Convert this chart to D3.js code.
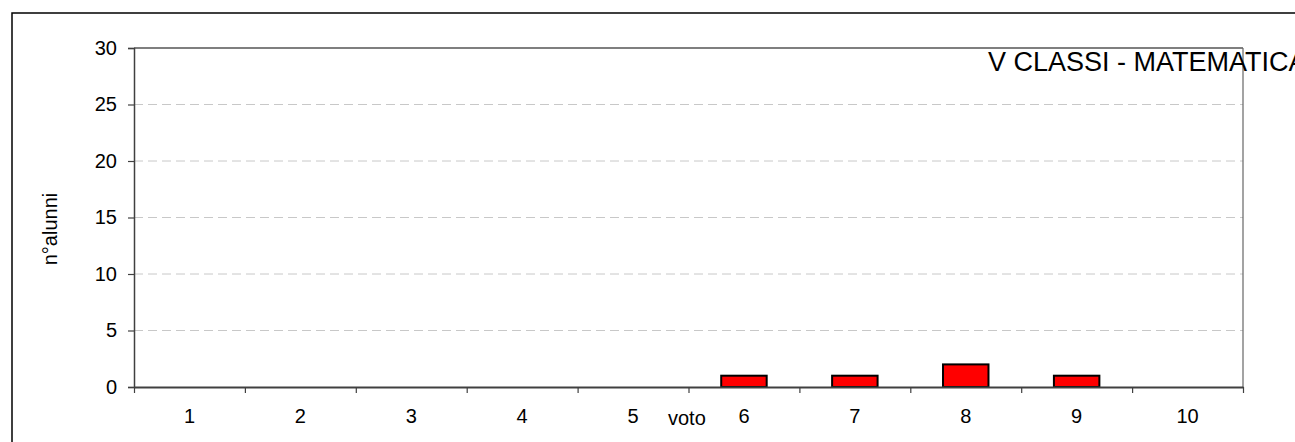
<!DOCTYPE html>
<html>
<head>
<meta charset="utf-8">
<script src="https://cdn.jsdelivr.net/npm/d3@7"></script>
<style>
  html, body { margin: 0; padding: 0; background: #fff; }
  svg { display: block; font-family: "Liberation Sans", Arial, sans-serif; }
</style>
</head>
<body>
<svg id="chart" width="1295" height="442"></svg>
<script>
const categories = ["1", "2", "3", "4", "5", "6", "7", "8", "9", "10"];
const values = [0, 0, 0, 0, 0, 1, 1, 2, 1, 0];
const yTicks = [0, 5, 10, 15, 20, 25, 30];
const title = "V CLASSI - MATEMATICA";
const xTitle = "voto";
const yTitle = "n°alunni";

const svg = d3.select("#chart");
const plot = { left: 134, right: 1243, top: 48, bottom: 387 };

// outer frame (extends beyond the picture on right and bottom)
svg.append("rect")
  .attr("x", 12).attr("y", 13)
  .attr("width", 1400).attr("height", 500)
  .attr("fill", "#fff").attr("stroke", "#000").attr("stroke-width", 1.5);

const x = d3.scaleBand().domain(categories)
  .range([plot.left, plot.right])
  .paddingInner(0.59).paddingOuter(0.295);
const xEdges = d3.scaleLinear().domain([0, categories.length]).range([plot.left, plot.right]);
const y = d3.scaleLinear().domain([0, 30]).range([plot.bottom, plot.top]);

// gridlines
svg.append("g").selectAll("line")
  .data(yTicks.filter(t => t > 0 && t < 30))
  .join("line")
  .attr("x1", plot.left).attr("x2", plot.right)
  .attr("y1", d => y(d)).attr("y2", d => y(d))
  .attr("stroke", "#c8c8c8").attr("stroke-width", 1)
  .attr("stroke-dasharray", "9,5");

// plot area top & right border
svg.append("line").attr("x1", plot.left).attr("x2", plot.right)
  .attr("y1", plot.top).attr("y2", plot.top).attr("stroke", "#000").attr("stroke-width", 1.2);
svg.append("line").attr("x1", plot.right).attr("x2", plot.right)
  .attr("y1", plot.top).attr("y2", plot.bottom).attr("stroke", "#666").attr("stroke-width", 1.2);

// y axis
const yAxis = svg.append("g").attr("transform", `translate(${plot.left},0)`)
  .call(d3.axisLeft(y).tickValues(yTicks).tickSize(6).tickPadding(11));
yAxis.select(".domain").attr("stroke", "#404040").attr("stroke-width", 1.5);
yAxis.selectAll(".tick line").attr("stroke", "#404040").attr("stroke-width", 1.2);
yAxis.selectAll(".tick text").attr("font-size", 20).attr("fill", "#000")
  .attr("font-family", "Liberation Sans, Arial, sans-serif");

// bars
svg.append("g").selectAll("rect")
  .data(categories.map((c, i) => ({ c, v: values[i] })).filter(d => d.v > 0))
  .join("rect")
  .attr("x", d => x(d.c))
  .attr("y", d => y(d.v))
  .attr("width", x.bandwidth())
  .attr("height", d => y(0) - y(d.v))
  .attr("fill", "#ff0000").attr("stroke", "#000").attr("stroke-width", 2);

// x axis boundary ticks
const xAxis = svg.append("g").attr("transform", `translate(0,${plot.bottom})`)
  .call(d3.axisBottom(xEdges).ticks(categories.length).tickFormat("").tickSize(6).tickSizeOuter(0));
xAxis.select(".domain").attr("stroke", "#404040").attr("stroke-width", 2);
xAxis.selectAll(".tick line").attr("stroke", "#404040").attr("stroke-width", 1.2);

// x labels centered in bands
const xLab = svg.append("g").attr("transform", `translate(0,${plot.bottom})`)
  .call(d3.axisBottom(x).tickSize(0).tickPadding(22));
xLab.select(".domain").remove();
xLab.selectAll(".tick text").attr("font-size", 20).attr("fill", "#000")
  .attr("font-family", "Liberation Sans, Arial, sans-serif");

// axis titles
svg.append("text").attr("x", 668).attr("y", 425)
  .attr("font-size", 20).attr("fill", "#000").text(xTitle);
svg.append("text")
  .attr("transform", "translate(57,229) rotate(-90)")
  .attr("text-anchor", "middle")
  .attr("font-size", 20).attr("fill", "#000").text(yTitle);

// chart title
svg.append("text").attr("x", 988).attr("y", 71)
  .attr("font-size", 27).attr("fill", "#000").text(title);
</script>
</body>
</html>
